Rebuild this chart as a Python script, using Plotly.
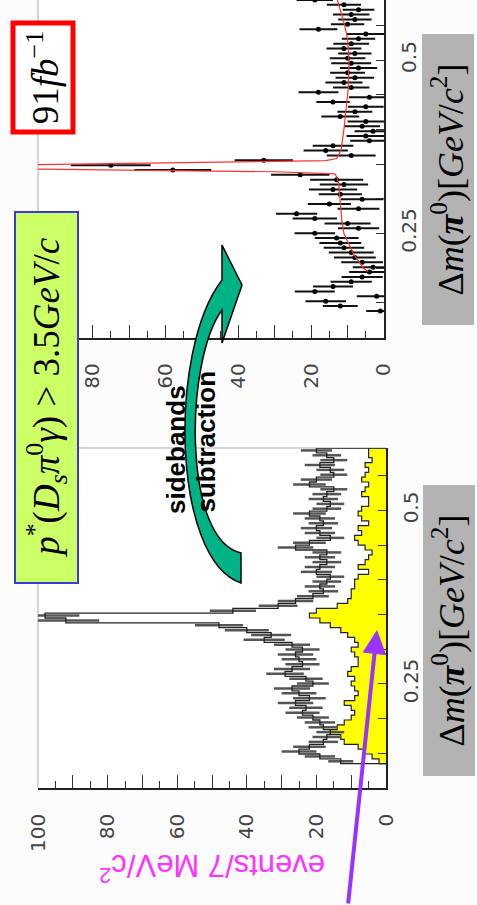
import numpy as np
import plotly.graph_objects as go

W, H = 477, 905
def px(x): return x / W
def py(y): return 1 - y / H

# ---------------- data ----------------
bin_lo = 0.135
bin_w = 0.007
# all events (left panel, black histogram), 7 MeV bins from 0.135 GeV
black = [13, 19, 25, 22, 18, 17, 16, 18, 19, 21, 24, 23, 26, 22, 25, 27, 21, 23, 29, 27,
         24, 25, 26, 24, 27, 35, 33, 40, 48, 92, 98, 44, 31, 26, 21, 18, 19, 17, 16, 20,
         19, 17, 19, 17, 26, 22, 16, 19, 20, 18, 19, 22, 17, 16, 18, 17, 15, 22, 20, 15,
         16, 19, 15, 17, 20]
# sidebands (left panel, yellow)
sideband = [2, 4, 6, 8, 12, 13, 16, 14, 12, 10, 9, 10, 12, 9, 8, 9, 10, 9, 11, 10,
            8, 8, 9, 10, 8, 9, 11, 13, 16, 19, 22, 20, 14, 11, 10, 10, 9, 9, 8, 5,
            8, 6, 5, 4, 6, 8, 9, 7, 8, 5, 7, 8, 7, 5, 5, 7, 6, 5, 7, 6,
            5, 6, 4, 5, 5]
# sideband-subtracted (right panel, points)
subtracted = [1, 12, 16, 2, 19, 14, 9, 6, 4, 3, 6, 8, 9, 11, 12, 13, 19, 7, 10, 19,
              24, 7, 15, 6, 12, 14, 11, 13, 23, 58, 75, 33, 9, 16, 14, 4, 5, 3, 6, 5,
              12, 8, 5, 14, 4, 18, 9, 11, 8, 10, 7, 9, 10, 8, 11, 9, 7, 5, 18, 10,
              8, 9, 7, 11, 19]
# fit curve
fit_dm = [0.195, 0.200, 0.210, 0.220, 0.230, 0.240, 0.250, 0.270, 0.300, 0.320, 0.330,
          0.336, 0.339, 0.341, 0.343, 0.346, 0.349, 0.351, 0.353, 0.355, 0.358, 0.363,
          0.370, 0.400, 0.430, 0.460, 0.500, 0.530, 0.550, 0.570, 0.590]
fit_val = [4.3, 5.6, 7.0, 8.3, 9.2, 10.2, 11.0, 11.6, 12.0, 12.4, 12.8,
           13.5, 30, 70, 100, 115, 100, 70, 35, 16, 13, 12.5,
           11.8, 11.0, 10.3, 9.8, 9.6, 10.0, 10.8, 12.0, 13.0]

ev_ticks_left = [0, 20, 40, 60, 80, 100]
ev_ticks_right = [0, 20, 40, 60, 80]
dm_ticks = [0.25, 0.5]

black = np.array(black, float)
sideband = np.array(sideband, float)
subtracted = np.array(subtracted, float)
n = len(black)
edges = bin_lo + bin_w * np.arange(n + 1)
centers = edges[:-1] + bin_w / 2


def step(vals):
    xs, ys = [0.0], [edges[0]]
    for k, v in enumerate(vals):
        xs += [v, v]
        ys += [edges[k], edges[k + 1]]
    xs.append(0.0)
    ys.append(edges[-1])
    return xs, ys


fig = go.Figure()

# ---------- left (lower) panel ----------
sx, sy = step(sideband)
fig.add_trace(go.Scatter(x=sx, y=sy, fill='toself', fillcolor='#ffff00', mode='lines',
                         line=dict(color='#222', width=1.2), xaxis='x2', yaxis='y2',
                         showlegend=False, hoverinfo='skip'))
bx, by = step(black)
fig.add_trace(go.Scatter(x=black, y=centers, mode='markers', marker=dict(size=1, color='#333'),
                         error_x=dict(type='data', array=np.sqrt(black), color='#555',
                                      thickness=2.5, width=0),
                         xaxis='x2', yaxis='y2', showlegend=False))
fig.add_trace(go.Scatter(x=bx, y=by, mode='lines', line=dict(color='#222', width=1.3),
                         xaxis='x2', yaxis='y2', showlegend=False))

# ---------- right (upper) panel ----------
err = np.sqrt(black + sideband)
fig.add_trace(go.Scatter(x=subtracted, y=centers, mode='markers',
                         marker=dict(size=5, color='black'),
                         error_x=dict(type='data', array=err, color='#111', thickness=2, width=0),
                         xaxis='x', yaxis='y', showlegend=False))
fig.add_trace(go.Scatter(x=fit_val, y=fit_dm, mode='lines', line=dict(color='#ff3030', width=1.2),
                         xaxis='x', yaxis='y', showlegend=False))

tickfont = dict(family='DejaVu Sans', size=20, color='#444')

def ev_axis(domain, rng, tv, anchor):
    return dict(domain=domain, range=rng, anchor=anchor, showgrid=False, zeroline=False,
                showline=True, linecolor='#222', linewidth=1.5,
                ticks='inside', ticklen=13, tickwidth=1.2, tickcolor='#333',
                tickvals=list(range(0, int(rng[0]) + 1, 10)),
                ticktext=[str(v) if v in tv else '' for v in range(0, int(rng[0]) + 1, 10)],
                minor=dict(dtick=5, ticks='inside', ticklen=7, tickcolor='#333', tickwidth=1),
                tickangle=-90, tickfont=tickfont, ticklabelstandoff=16)

def dm_axis(domain, rng, anchor):
    vals = [round(0.1 + 0.05 * i, 2) for i in range(10)]
    return dict(domain=domain, range=rng, anchor=anchor, side='right', showgrid=False,
                zeroline=False, showline=True, linecolor='#222', linewidth=1.5,
                ticks='inside', ticklen=8, tickwidth=1.2, tickcolor='#333',
                tickvals=vals, ticktext=[str(v) if v in dm_ticks else '' for v in vals],
                tickangle=-90, tickfont=tickfont, ticklabelstandoff=6)

fig.update_layout(
    width=W, height=H, margin=dict(l=0, r=0, t=0, b=0, autoexpand=False),
    paper_bgcolor='#fcfcfc', plot_bgcolor='white',
    xaxis=ev_axis([px(38), px(384)], [95, 0], ev_ticks_right, 'y'),
    yaxis=dm_axis([py(337.6), 1.0], [0.1, 0.5865], 'x'),
    xaxis2=ev_axis([px(38), px(386)], [100, 0], ev_ticks_left, 'y2'),
    yaxis2=dm_axis([py(788), py(448)], [0.1, 0.59], 'x2'),
)

shapes = [
    dict(type='line', xref='paper', yref='paper', x0=px(38), x1=px(38), y0=py(337), y1=1,
         line=dict(color='#c8c8c8', width=1.5), layer='below'),
    dict(type='line', xref='paper', yref='paper', x0=px(38), x1=px(38), y0=py(788), y1=py(448),
         line=dict(color='#c8c8c8', width=1.5), layer='below'),
    dict(type='line', xref='paper', yref='paper', x0=px(38), x1=px(386), y0=py(448), y1=py(448),
         line=dict(color='#c8c8c8', width=1.5), layer='below'),
]

def P(x, y):
    return f"{px(x):.5f},{py(y):.5f}"

arrow_path = ("M " + P(241, 583) + " C " + P(172, 560) + " " + P(168, 350) + " " + P(222, 280) +
              " L " + P(222, 245) + " L " + P(242, 285) + " L " + P(222, 343) + " L " + P(222, 310) +
              " C " + P(185, 360) + " " + P(182, 540) + " " + P(241, 553) + " Z")
shapes.append(dict(type='path', xref='paper', yref='paper', path=arrow_path,
                   fillcolor='#00b386', line=dict(color='black', width=1.5), layer='above'))
fig.update_layout(shapes=shapes)

serif = 'Liberation Serif'
C = dict(xref='paper', yref='paper', xanchor='center', yanchor='middle')
ann = []
# y-axis title (upside down, magenta)
ann.append(dict(text='events/7 MeV/c<sup>2</sup>', textangle=180, x=px(212), y=py(868),
                showarrow=False, font=dict(family='Liberation Sans', size=31, color='#ff33ff'), **C))
# momentum cut box
ann.append(dict(text='<i>p</i><sup>*</sup>(<i>D<sub>s</sub>π</i><sup>0</sup><i>γ</i>) > 3.5<i>GeV</i>/<i>c</i>',
                textangle=-90, x=px(46.5), y=py(397.5),
                showarrow=False, width=369, height=61, bgcolor='#ccff66',
                bordercolor='#3a3ad8', borderwidth=2, borderpad=0,
                font=dict(family=serif, size=37, color='black'), **C))
# luminosity box
ann.append(dict(text='91<i>fb</i><sup>−1</sup>', textangle=-90, x=px(43.5), y=py(78),
                showarrow=False, width=104, height=55,
                bgcolor='white', bordercolor='#ff0000', borderwidth=5, borderpad=0,
                font=dict(family=serif, size=37, color='black'), **C))
# x-axis titles (grey boxes)
dm_text = 'Δ<i>m</i>(<b><i>π</i></b><sup>0</sup>)[<i>GeV</i>/<i>c</i><sup>2</sup>]'
for yc in (180, 631):
    ann.append(dict(text=dm_text, textangle=-90, x=px(448.5), y=py(yc),
                    showarrow=False, width=290, height=51, bgcolor='#b3b3b3',
                    borderpad=0, font=dict(family=serif, size=36, color='black'), **C))
# sidebands subtraction
ann.append(dict(text='<b>sidebands</b>', textangle=-90, x=px(176), y=py(450),
                showarrow=False, font=dict(family='Liberation Sans', size=26, color='black'), **C))
ann.append(dict(text='<b>subtraction</b>', textangle=-90, x=px(205.5), y=py(442),
                showarrow=False, font=dict(family='Liberation Sans', size=26, color='black'), **C))
# purple arrow
ann.append(dict(text='', x=px(377), y=py(630), xref='paper', yref='paper', showarrow=True,
                ax=-29, ay=275, arrowhead=2, arrowsize=1.2, arrowwidth=4,
                arrowcolor='#9933ff', standoff=0))
fig.update_layout(annotations=ann)

fig.write_html('out.html')
